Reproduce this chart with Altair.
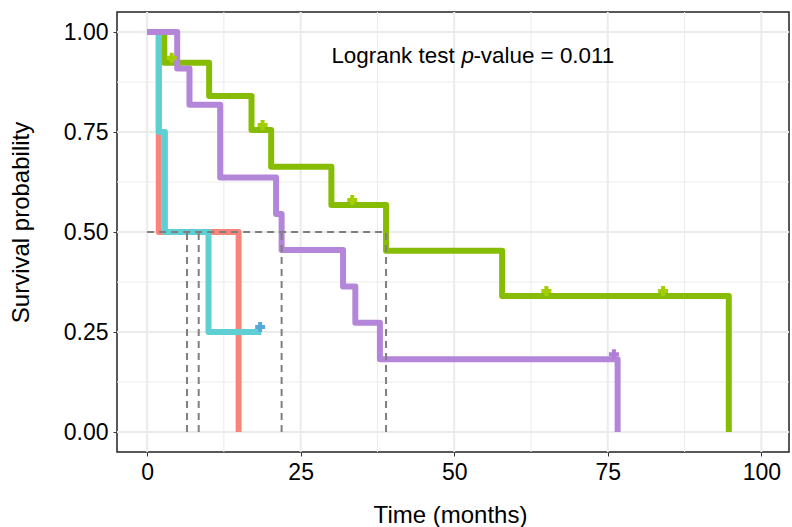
import altair as alt
import pandas as pd

# ---- data ----
RED_T = [0, 1.9, 14.9]
RED_S = [1.0, 0.5, 0.0]

GREEN_T = [0, 2.8, 10.1, 17.0, 20.2, 30.0, 38.9, 57.8, 94.7]
GREEN_S = [1.0, 0.923, 0.84, 0.755, 0.663, 0.5675, 0.453, 0.34, 0.0]

CYAN_T = [0, 1.9, 2.9, 10.0, 18.6]
CYAN_S = [1.0, 0.75, 0.5, 0.25, 0.25]

PURPLE_T = [0, 4.9, 6.9, 11.9, 21.0, 21.9, 31.9, 33.9, 37.9, 76.6]
PURPLE_S = [1.0, 0.909, 0.818, 0.636, 0.545, 0.455, 0.364, 0.273, 0.182, 0.0]

GREEN_CENS_T = [4.0, 18.8, 33.4, 65.0, 84.0]
GREEN_CENS_S = [0.923, 0.755, 0.5675, 0.34, 0.34]
CYAN_CENS_T = [18.4]
CYAN_CENS_S = [0.25]
PURPLE_CENS_T = [76.0]
PURPLE_CENS_S = [0.182]

MEDIANS = [6.5, 8.4, 21.9, 38.9]
MEDIAN_LEVEL = 0.5

X_TICKS = [0, 25, 50, 75, 100]
X_MINOR = [12.5, 37.5, 62.5, 87.5]
Y_TICKS = [0.0, 0.25, 0.5, 0.75, 1.0]
Y_MINOR = [0.125, 0.375, 0.625, 0.875]

ANNOT_X = [30]
ANNOT_Y = [0.94]
ANNOT_PARTS = ["Logrank test ", "p", "-value = 0.011"]

# ---- styling ----
FONT = "Liberation Sans"
xscale = alt.Scale(domain=[-4.9, 104.5], nice=False, zero=False)
yscale = alt.Scale(domain=[-0.05, 1.05], nice=False, zero=False)

xaxis = alt.Axis(values=X_TICKS, grid=False, domain=False, tickColor="#333333",
                 tickSize=4, tickWidth=1, labelFontSize=23, labelColor="black",
                 labelPadding=5, labelFont=FONT, titleFont=FONT, titleFontSize=24,
                 titleFontWeight="normal", titleColor="black", titleY=63,
                 titleX=333, titleBaseline="middle")
yaxis = alt.Axis(values=Y_TICKS, format=".2f", grid=False, domain=False,
                 tickColor="#333333", tickSize=4, tickWidth=1, labelFontSize=23,
                 labelColor="black", labelPadding=5, labelFont=FONT, titleFont=FONT,
                 titleFontSize=24, titleFontWeight="normal", titleColor="black",
                 titleX=-96, titleY=210, titleBaseline="middle", titleAngle=-90)

X = lambda f: alt.X(f, type="quantitative", scale=xscale, axis=xaxis, title="Time (months)")
Y = lambda f: alt.Y(f, type="quantitative", scale=yscale, axis=yaxis, title="Survival probability")

# grid
gx_major = alt.Chart(pd.DataFrame({"v": X_TICKS})).mark_rule(color="#EBEBEB", strokeWidth=2).encode(x=X("v"))
gx_minor = alt.Chart(pd.DataFrame({"v": X_MINOR})).mark_rule(color="#EBEBEB", strokeWidth=1).encode(x=X("v"))
gy_major = alt.Chart(pd.DataFrame({"v": Y_TICKS})).mark_rule(color="#EBEBEB", strokeWidth=2).encode(y=Y("v"))
gy_minor = alt.Chart(pd.DataFrame({"v": Y_MINOR})).mark_rule(color="#EBEBEB", strokeWidth=1).encode(y=Y("v"))


def curve(t, s, color):
    df = pd.DataFrame({"time": t, "surv": s})
    return alt.Chart(df).mark_line(interpolate="step-after", strokeWidth=6,
                                   strokeJoin="round", strokeCap="butt",
                                   color=color).encode(x=X("time"), y=Y("surv"))


def censor(t, s, color):
    df = pd.DataFrame({"time": t, "surv": s})
    return alt.Chart(df).mark_point(shape="cross", size=100, filled=True, opacity=1,
                                    color=color, yOffset=-5).encode(x=X("time"), y=Y("surv"))


red = curve(RED_T, RED_S, "#F8857B")
green = curve(GREEN_T, GREEN_S, "#86BD04")
cyan = curve(CYAN_T, CYAN_S, "#5FCFD3")
purple = curve(PURPLE_T, PURPLE_S, "#B386D9")

c_green = censor(GREEN_CENS_T, GREEN_CENS_S, "#A3CF00")
c_cyan = censor(CYAN_CENS_T, CYAN_CENS_S, "#58A8DA")
c_purple = censor(PURPLE_CENS_T, PURPLE_CENS_S, "#B07ED8")

med_df = pd.DataFrame({"m": MEDIANS, "lo": [0.0] * len(MEDIANS), "hi": [MEDIAN_LEVEL] * len(MEDIANS)})
med_v = alt.Chart(med_df).mark_rule(color="#7F7F7F", strokeWidth=2, strokeDash=[7, 5]).encode(
    x=X("m"), y=Y("lo"), y2="hi")
med_h_df = pd.DataFrame({"a": [0.0], "b": [max(MEDIANS)], "y": [MEDIAN_LEVEL]})
med_h = alt.Chart(med_h_df).mark_rule(color="#7F7F7F", strokeWidth=2, strokeDash=[7, 5]).encode(
    x=X("a"), x2="b", y=Y("y"))

ann_df = pd.DataFrame({"x": ANNOT_X, "y": ANNOT_Y})
ann1 = alt.Chart(ann_df).mark_text(text=ANNOT_PARTS[0], align="left", baseline="middle",
                                   font=FONT, fontSize=22.4, color="black").encode(x=X("x"), y=Y("y"))
ann2 = alt.Chart(ann_df).mark_text(text=ANNOT_PARTS[1], align="left", baseline="middle",
                                   font=FONT, fontSize=22.4, fontStyle="italic", color="black",
                                   dx=130).encode(x=X("x"), y=Y("y"))
ann3 = alt.Chart(ann_df).mark_text(text=ANNOT_PARTS[2], align="left", baseline="middle",
                                   font=FONT, fontSize=22.4, color="black",
                                   dx=142).encode(x=X("x"), y=Y("y"))

chart = alt.layer(
    gx_minor, gy_minor, gx_major, gy_major,
    red, green, cyan, purple,
    med_h, med_v,
    c_green, c_cyan, c_purple,
    ann1, ann2, ann3,
).properties(
    width=672, height=440, autosize="none",
    padding={"left": 117, "top": 12, "right": 3, "bottom": 75},
    background="white",
).configure_view(stroke="#222222", strokeWidth=1.5)

chart.save("out.html", embed_options={"renderer": "svg", "actions": False})
